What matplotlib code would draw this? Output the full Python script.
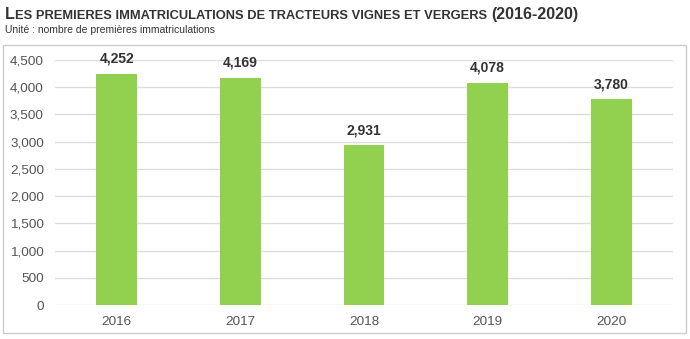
import matplotlib.pyplot as plt
from matplotlib.patches import Rectangle

years = ['2016', '2017', '2018', '2019', '2020']
immatriculations = [4252, 4169, 2931, 4078, 3780]
yticks = [0, 500, 1000, 1500, 2000, 2500, 3000, 3500, 4000, 4500]

plt.rcParams['font.family'] = ['Liberation Sans', 'DejaVu Sans']

fig = plt.figure(figsize=(6.9, 3.39), dpi=100)
ax = fig.add_axes([55 / 690, 34 / 339, 618 / 690, 245 / 339])

x = range(len(years))
ax.bar(x, immatriculations, width=0.33, color='#92d050', zorder=3)
for i, v in zip(x, immatriculations):
    ax.text(i, v + 150, '{:,}'.format(v), ha='center', va='bottom',
            fontsize=10, fontweight='bold', color='#333333')

ax.set_xlim(-0.5, len(years) - 0.5)
ax.set_ylim(0, 4500)
ax.set_yticks(yticks)
ax.set_yticklabels(['{:,}'.format(t) for t in yticks])
ax.set_xticks(list(x))
ax.set_xticklabels(years)
ax.tick_params(axis='both', length=0, labelsize=9.7, labelcolor='#555555')
ax.tick_params(axis='y', pad=8)
ax.tick_params(axis='x', pad=8)
ax.grid(axis='y', color='#dddddd', linewidth=1, zorder=0)
for s in ax.spines.values():
    s.set_visible(False)

# bordure autour du graphique
fig.patches.append(Rectangle((3 / 690, 6 / 339), 683 / 690, 288 / 339,
                             transform=fig.transFigure, fill=False,
                             edgecolor='#cccccc', linewidth=1))

# titre en petites majuscules, morceau par morceau
pieces = [('L', 11.5), ('ES PREMIERES IMMATRICULATIONS DE TRACTEURS VIGNES ET VERGERS ', 9.25),
          ('(2016-2020)', 11.5)]
renderer = fig.canvas.get_renderer()
xpos = 5
for txt, fs in pieces:
    t = fig.text(xpos / 690, 1 - 19 / 339, txt, fontsize=fs, fontweight='bold',
                 color='#333333', va='baseline')
    bb = t.get_window_extent(renderer)
    xpos = bb.x1 + 0.5
fig.text(5 / 690, 1 - 30 / 339, 'Unité : nombre de premières immatriculations',
         fontsize=7.5, color='#333333', va='center')

fig.savefig('out.png', dpi=100)
